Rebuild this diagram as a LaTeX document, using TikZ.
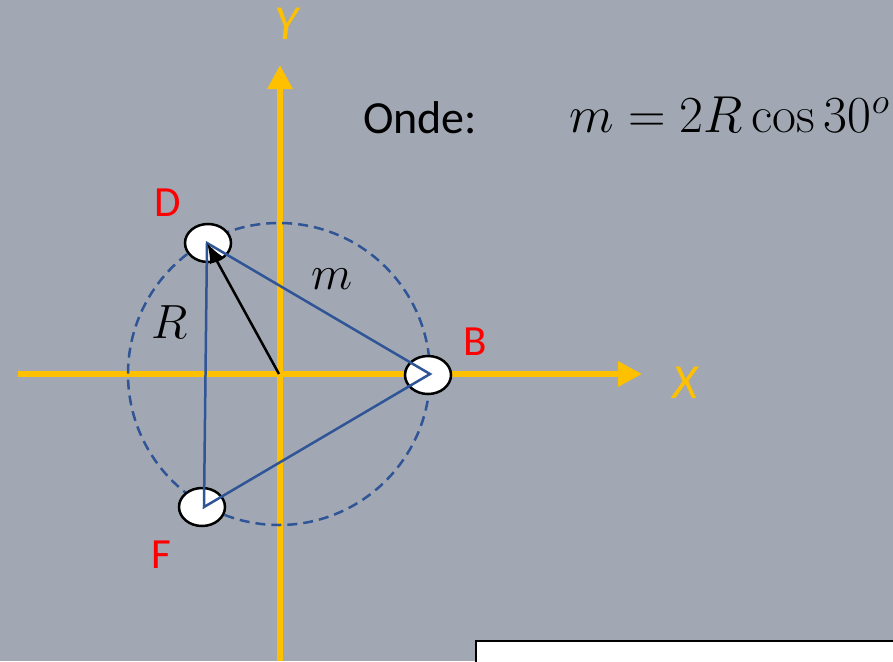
\RequirePackage{fix-cm}
\documentclass[tikz,border=0pt]{standalone}
\usepackage[no-math]{fontspec}
\newfontfamily\calibri{Carlito}
\usetikzlibrary{arrows.meta}
\definecolor{bg}{RGB}{161,168,179}
\definecolor{axisyellow}{RGB}{255,192,0}
\definecolor{triblue}{RGB}{47,85,151}
\definecolor{labred}{RGB}{255,0,0}
\tikzset{
  axis/.style={axisyellow, line width=6.5pt, -{Triangle[length=24pt,width=24pt]}},
  axislabel/.style={text=axisyellow, font=\calibri\itshape\fontsize{49}{55}\selectfont, inner sep=0pt},
  ptlabel/.style={text=labred, font=\calibri\fontsize{43}{49}\selectfont, inner sep=0pt},
  mathlabel/.style={font=\fontsize{48}{56}\selectfont, inner sep=0pt},
  holestyle/.style={fill=white, draw=black, line width=2.5pt},
  tri/.style={triblue, line width=2.5pt},
}
\begin{document}
\begin{tikzpicture}[x=1pt,y=-1pt]
\fill[bg] (0,0) rectangle (893,661);
\useasboundingbox (0,0) rectangle (893,661);
% axes
\coordinate (O) at (279,374);
\coordinate (xs) at (18,374);
\coordinate (xe) at (642,374);
\coordinate (ys) at (280,661);
\coordinate (ye) at (280,65);
\draw[axis] (xs) -- (xe);
\draw[axis] (ys) -- (ye);
\node[axislabel] (Y) at (286,24) {Y};
\node[axislabel] (X) at (685,383) {X};
% dashed circle
\draw[triblue, line width=2.5pt, dash pattern=on 10pt off 6pt] (O) circle[radius=151pt];
% holes
\coordinate (Dc) at (207,243);
\coordinate (Bc) at (430,374);
\coordinate (Fc) at (204,507);
\filldraw[holestyle] (208,243) ellipse[x radius=23pt, y radius=19pt];
\filldraw[holestyle] (428,375) ellipse[x radius=23pt, y radius=19pt];
\filldraw[holestyle] (202,507) ellipse[x radius=23pt, y radius=19pt];
% triangle
\draw[tri, line join=miter] (Dc) -- (Bc) -- (Fc) -- cycle;
% radius arrow
\draw[black, line width=2.5pt, -{Latex[length=20pt,width=15pt]}] (O) -- (Dc);
% labels
\node[ptlabel] (D) at (168,203) {D};
\node[ptlabel] (B) at (475,342) {B};
\node[ptlabel] (F) at (161,555) {F};
\node[mathlabel] (R) at (170,322) {$R$};
\node[mathlabel] (m) at (332,279) {$m$};
\node[font=\calibri\fontsize{46}{54}\selectfont, anchor=base west, inner sep=0pt] (onde) at (363,133) {Onde:};
\node[font=\fontsize{52}{60}\selectfont, anchor=base west, inner sep=0pt] (eq) at (569,132) {$m=2R\cos 30^o$};
% white box
\filldraw[fill=white, draw=black, line width=2pt] (476,641) rectangle (905,675);
\end{tikzpicture}
\end{document}
